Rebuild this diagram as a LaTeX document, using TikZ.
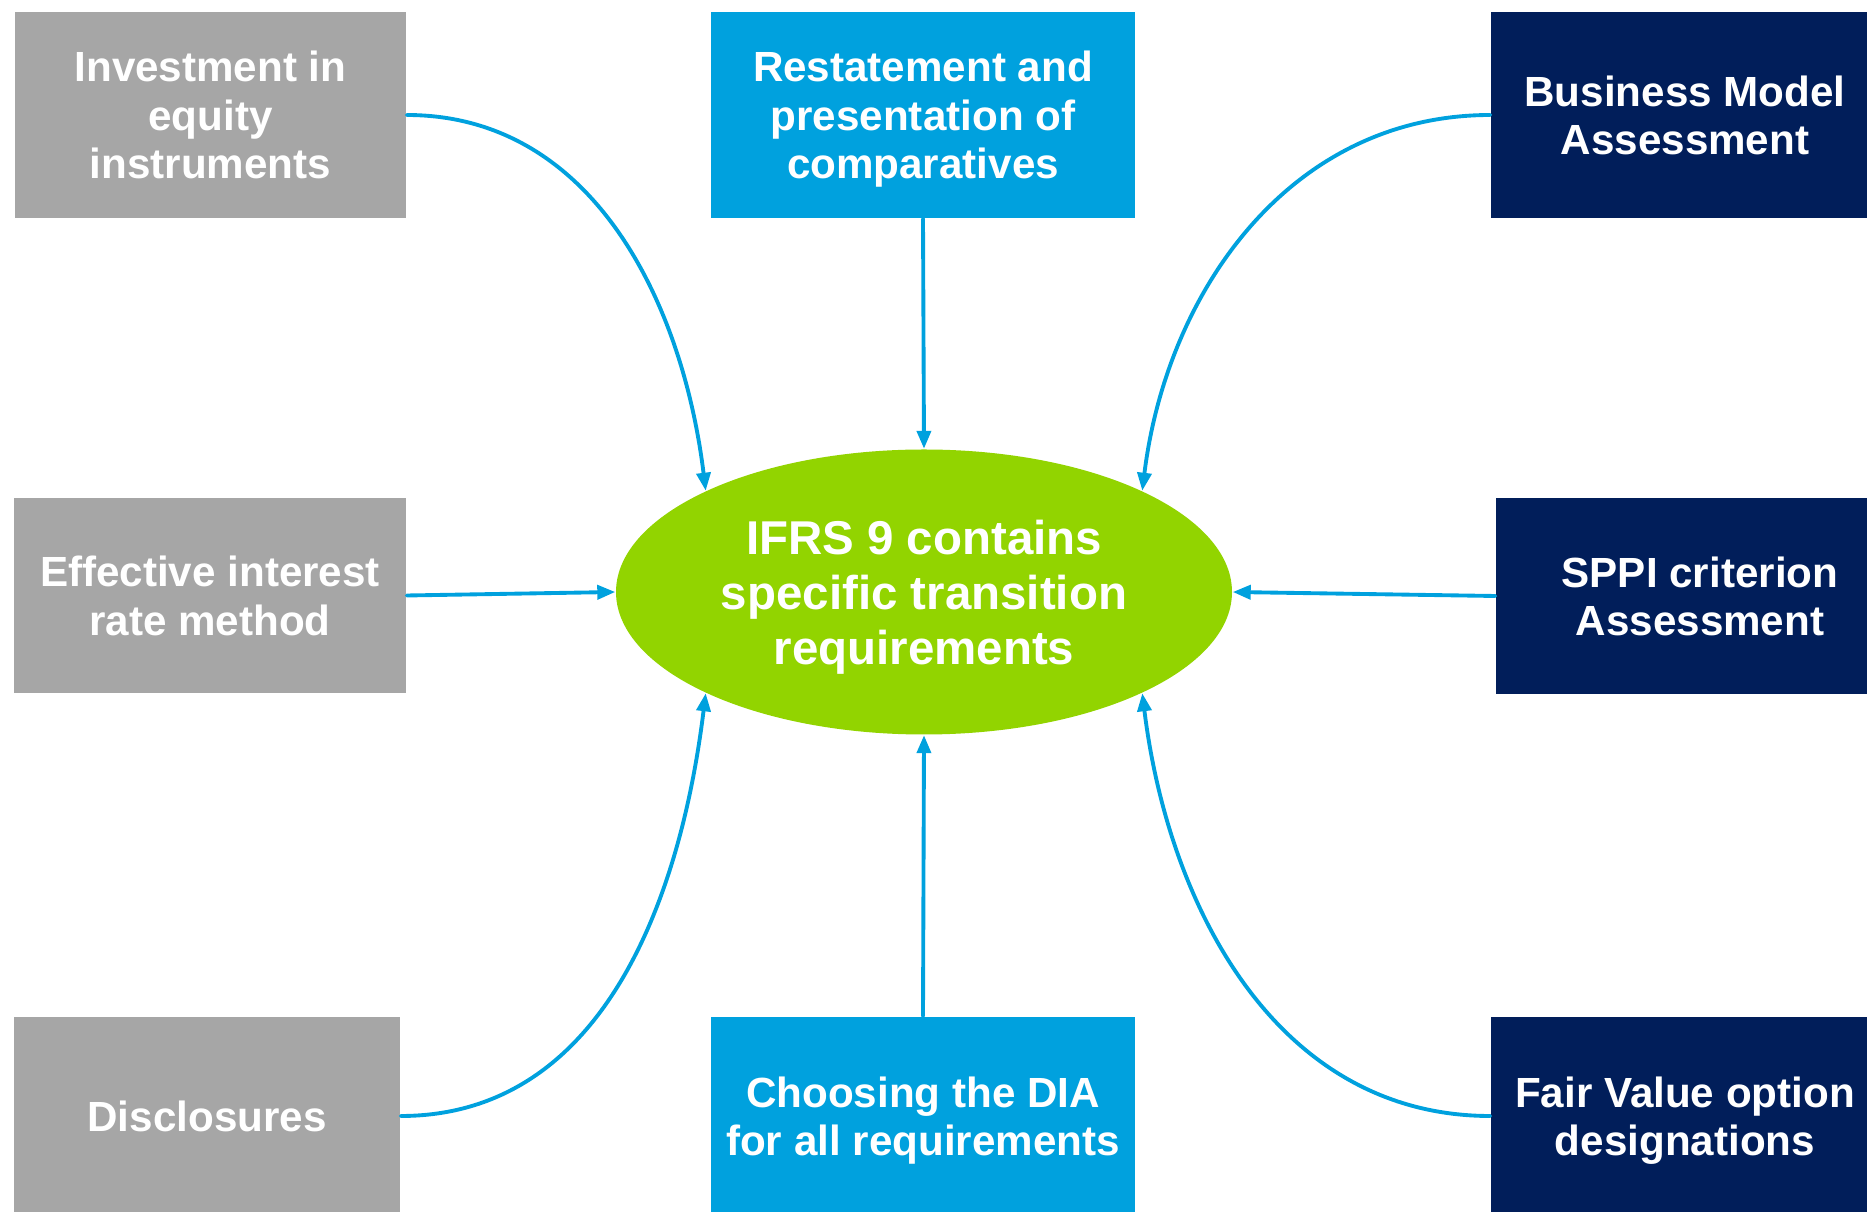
\documentclass[tikz,border=0pt]{standalone}
\usepackage{fontspec}
\setmainfont{Liberation Sans}
\usetikzlibrary{arrows.meta,shapes.geometric}
\definecolor{ifrsgrey}{RGB}{166,166,166}
\definecolor{ifrsblue}{RGB}{0,161,222}
\definecolor{ifrsnavy}{RGB}{1,30,90}
\definecolor{ifrsgreen}{RGB}{146,212,0}

\begin{document}
\begin{tikzpicture}[>={Triangle[length=1.8mm,width=1.4mm]},line cap=round,line join=round,
 box/.style={rectangle,inner sep=0pt,text=white,align=center,text depth=0pt,
  font=\fontsize{12}{13.8}\selectfont\bfseries},
 greybox/.style={box,fill=ifrsgrey},
 bluebox/.style={box,fill=ifrsblue},
 navybox/.style={box,fill=ifrsnavy},
 link/.style={->,ifrsblue,line width=1.1pt}]
 \useasboundingbox (0,0) rectangle (18.67,12.12);
 \node[ellipse,fill=ifrsgreen,minimum width=6.16cm,minimum height=2.85cm,inner sep=0pt,
  text=white,align=center,text depth=0pt,font=\fontsize{13.5}{15.6}\selectfont\bfseries]
  (ifrs) at (9.24,6.2) {IFRS 9 contains\\specific transition\\requirements};
 \node[greybox,minimum width=3.91cm,minimum height=2.06cm] (inv) at (2.105,10.97)
  {Investment in\\equity\\instruments};
 \node[bluebox,minimum width=4.24cm,minimum height=2.06cm] (rest) at (9.23,10.97)
  {Restatement and\\presentation of\\comparatives};
 \node[navybox,minimum width=3.88cm,minimum height=2.06cm] (bus) at (16.85,10.97)
  {Business Model\\Assessment};
 \node[greybox,minimum width=3.92cm,minimum height=1.95cm] (eff) at (2.10,6.165)
  {Effective interest\\rate method};
 \node[navybox,minimum width=4.08cm,minimum height=1.96cm] (sppi) at (17.00,6.16)
  {SPPI criterion\\Assessment};
 \node[greybox,minimum width=3.86cm,minimum height=1.98cm] (disc) at (2.07,0.96)
  {Disclosures};
 \node[bluebox,minimum width=4.24cm,minimum height=1.98cm] (choose) at (9.23,0.96)
  {Choosing the DIA\\for all requirements};
 \node[navybox,minimum width=3.88cm,minimum height=1.98cm] (fair) at (16.85,0.96)
  {Fair Value option\\designations};
 \draw[link] (inv.east) to[out=0,in=97] (ifrs.north west);
 \draw[link] (rest.south) -- (ifrs.north);
 \draw[link] (bus.west) to[out=180,in=83] (ifrs.north east);
 \draw[link] (eff.east) -- (ifrs.west);
 \draw[link] (sppi.west) -- (ifrs.east);
 \draw[link] (disc.east) to[out=0,in=-97] (ifrs.south west);
 \draw[link] (choose.north) -- (ifrs.south);
 \draw[link] (fair.west) to[out=180,in=-83] (ifrs.south east);
\end{tikzpicture}
\end{document}
